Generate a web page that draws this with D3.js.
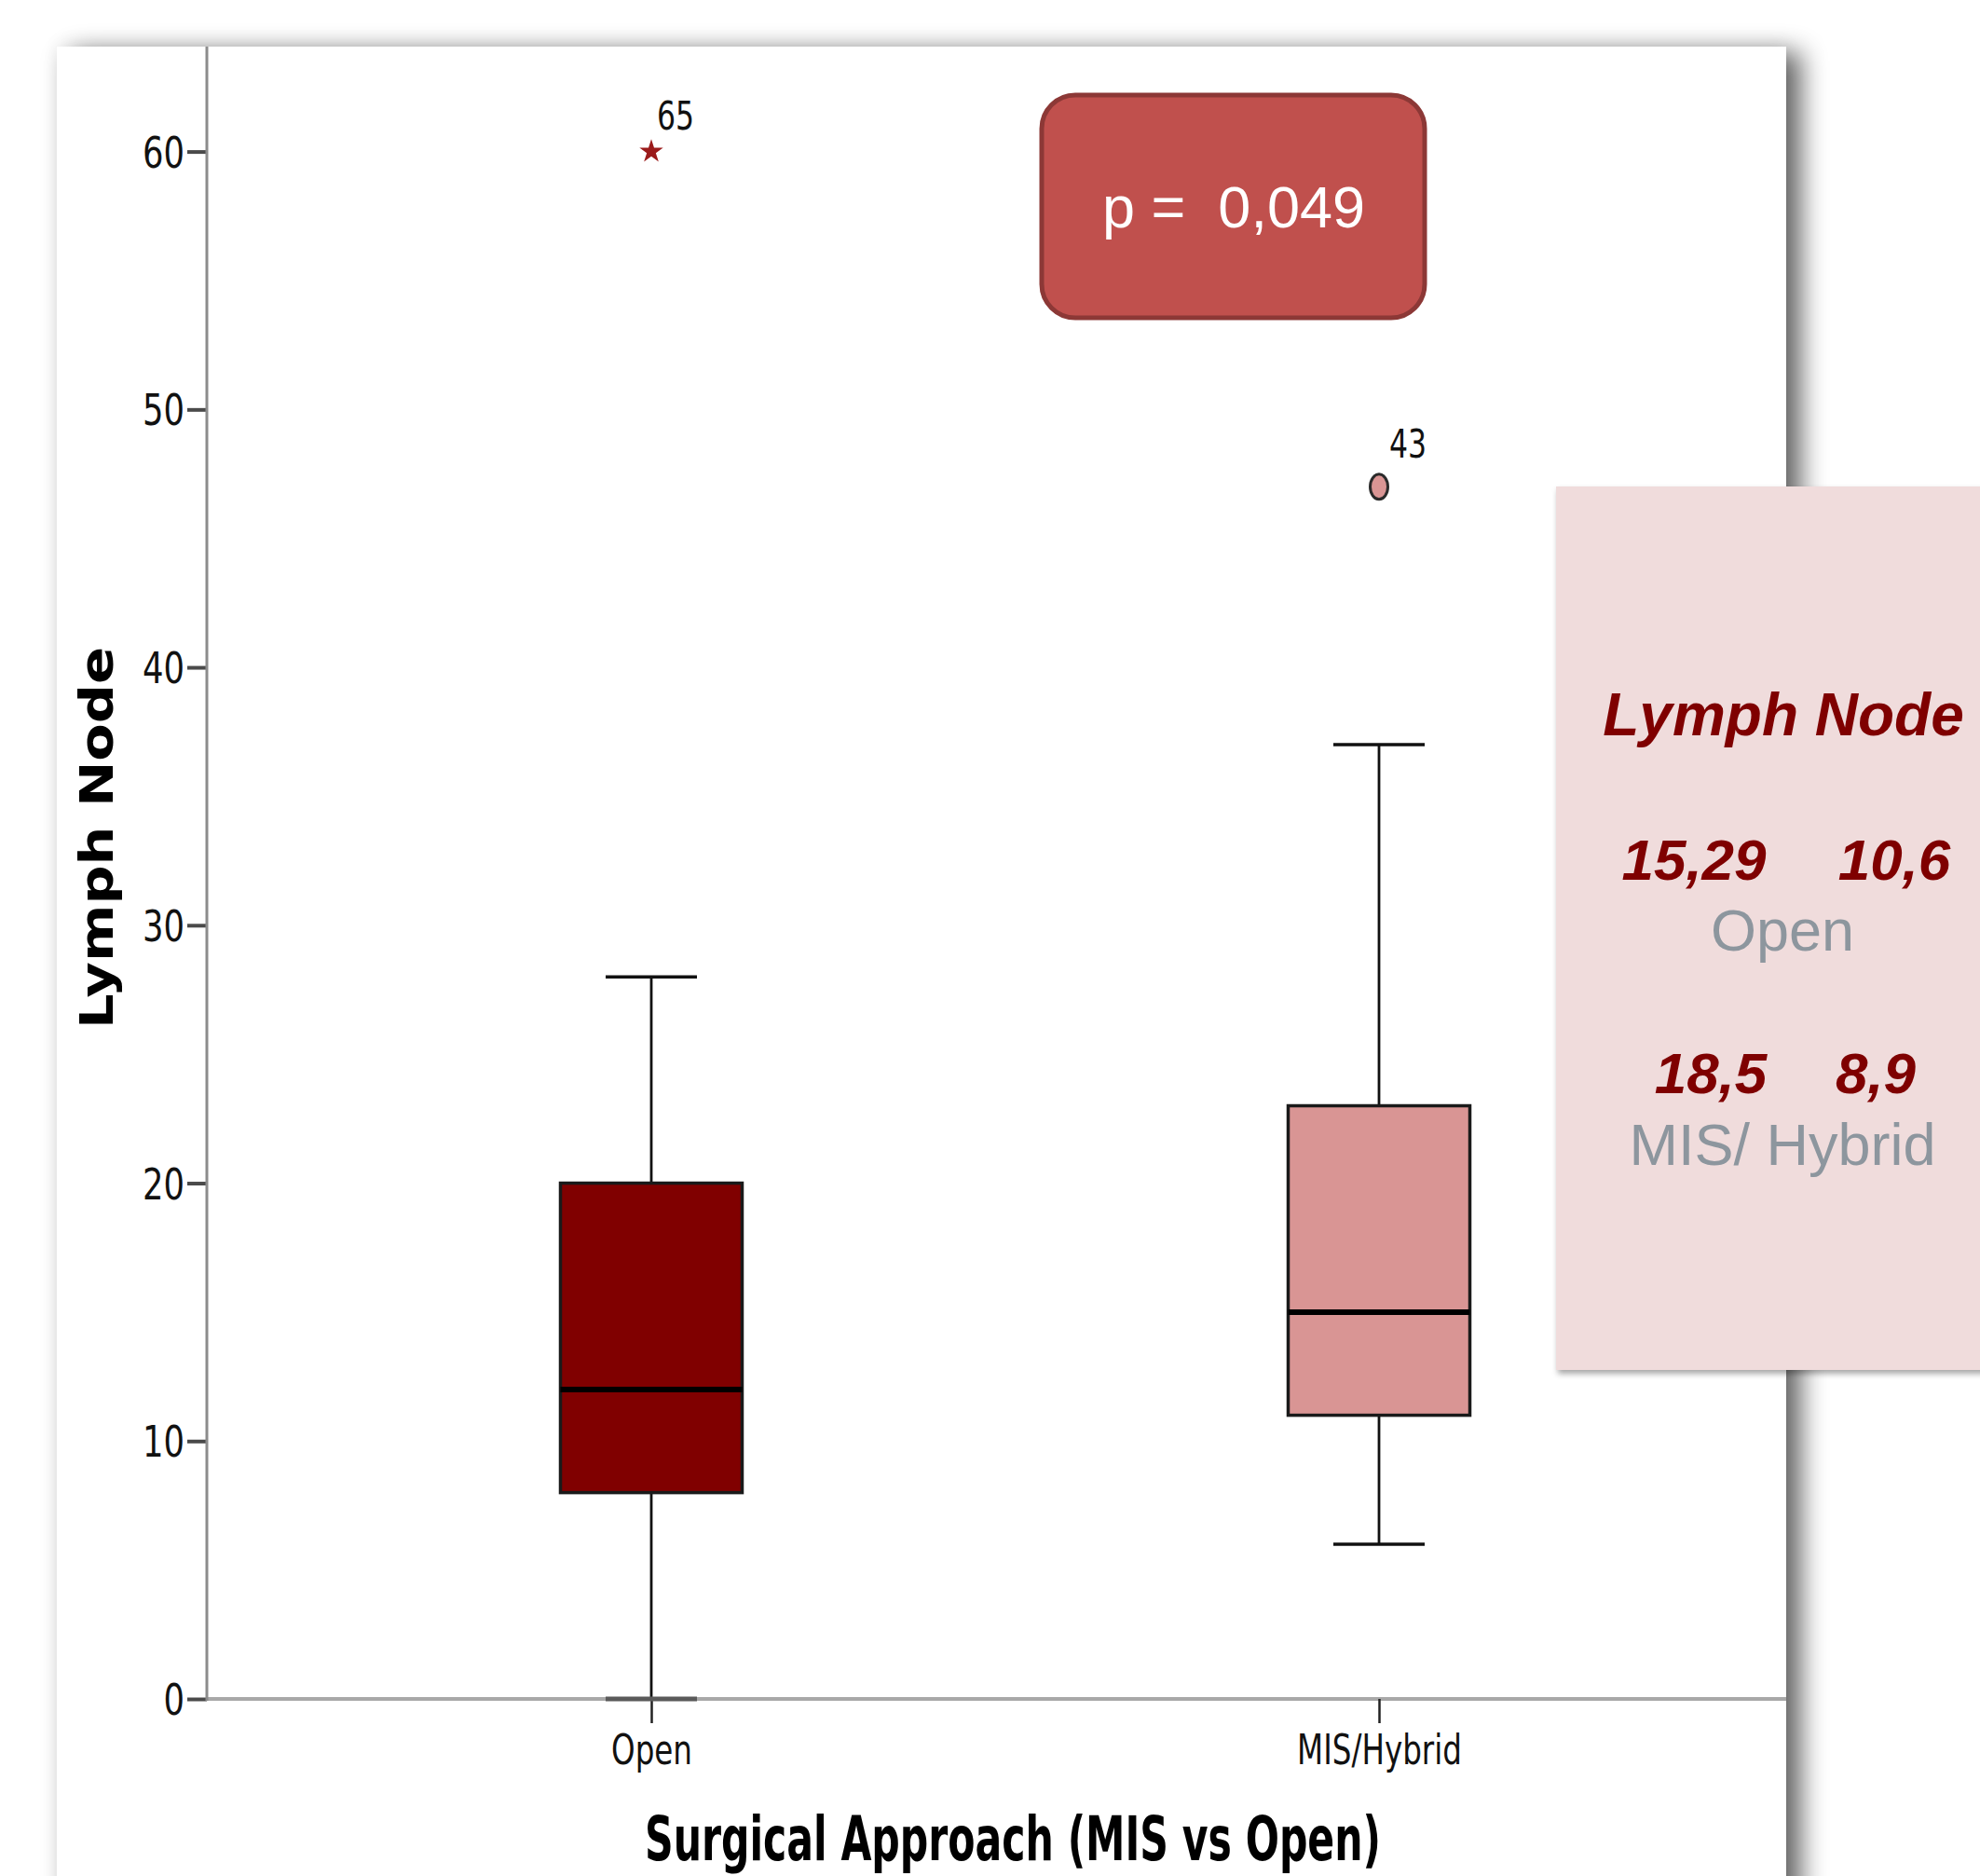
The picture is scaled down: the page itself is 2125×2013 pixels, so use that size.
<!DOCTYPE html>
<html>
<head>
<meta charset="utf-8">
<script src="https://cdn.jsdelivr.net/npm/d3@7"></script>
<style>
  html, body { margin: 0; padding: 0; background: #ffffff; }
  svg { display: block; }
</style>
</head>
<body>
<svg id="chart" width="2125" height="2013"></svg>
<script>
// Box-plot summary per surgical approach
const categories   = ["Open", "MIS/Hybrid"];
const whiskerLow   = [0, 6];
const quartile1    = [8, 11];
const medians      = [12, 15];
const quartile3    = [20, 23];
const whiskerHigh  = [28, 37];

// Points beyond the whiskers, with their case numbers
const outlierValues  = [60, 47];
const outlierCaseIds = ["65", "43"];
const outlierTypes   = ["extreme", "mild"];

// Axis ticks
const yTickValues = [0, 10, 20, 30, 40, 50, 60];

// Summary panel: mean and SD per group
const groupMeans = ["15,29", "18,5"];
const groupSDs   = ["10,6", "8,9"];
const groupNames = ["Open", "MIS/ Hybrid"];
const pValueText = "0,049";

const boxFills = ["#800000", "#d99594"];

const svg = d3.select("#chart");
const defs = svg.append("defs");

// Soft card shadow: faint halo plus stronger offset to the right
const cardShadow = defs.append("filter").attr("id", "cardShadow")
  .attr("x", "-10%").attr("y", "-10%").attr("width", "130%").attr("height", "130%");
cardShadow.append("feGaussianBlur").attr("in", "SourceAlpha").attr("stdDeviation", 14).attr("result", "blurA");
cardShadow.append("feOffset").attr("in", "blurA").attr("dx", 16).attr("dy", 6).attr("result", "offA");
cardShadow.append("feComponentTransfer").attr("in", "offA").attr("result", "shadowA")
  .append("feFuncA").attr("type", "linear").attr("slope", 0.6);
cardShadow.append("feGaussianBlur").attr("in", "SourceAlpha").attr("stdDeviation", 12).attr("result", "blurB");
cardShadow.append("feComponentTransfer").attr("in", "blurB").attr("result", "haloB")
  .append("feFuncA").attr("type", "linear").attr("slope", 0.07);
const cm = cardShadow.append("feMerge");
cm.append("feMergeNode").attr("in", "haloB");
cm.append("feMergeNode").attr("in", "shadowA");
cm.append("feMergeNode").attr("in", "SourceGraphic");

const panelShadow = defs.append("filter").attr("id", "panelShadow")
  .attr("x", "-5%").attr("y", "-5%").attr("width", "115%").attr("height", "115%");
panelShadow.append("feDropShadow").attr("dx", 2).attr("dy", 4)
  .attr("stdDeviation", 3).attr("flood-color", "#000").attr("flood-opacity", 0.35);

// White chart card
svg.append("rect")
  .attr("x", 61).attr("y", 50).attr("width", 1856).attr("height", 2100)
  .attr("fill", "#ffffff")
  .attr("filter", "url(#cardShadow)");

// Scales
const y = d3.scaleLinear().domain([0, 60]).range([1823, 162.6]);
const x = d3.scalePoint().domain(categories).range([699, 1480]);
const boxW = 195, capW = 98;

const plotLeft = 222, plotRight = 1917, plotTop = 50;

// Horizontally condense a text to a fraction of its natural width
function squeeze(sel, ratio) {
  sel.each(function () {
    const w = this.getComputedTextLength();
    d3.select(this).attr("textLength", w * ratio).attr("lengthAdjust", "spacingAndGlyphs");
  });
}

// X axis line (gray) and category ticks
svg.append("line")
  .attr("x1", plotLeft).attr("x2", plotRight)
  .attr("y1", y(0)).attr("y2", y(0))
  .attr("stroke", "#a8a8a8").attr("stroke-width", 4);

const xAxis = svg.append("g")
  .attr("transform", `translate(0,${y(0)})`)
  .call(d3.axisBottom(x).tickSize(26).tickPadding(0));
xAxis.select(".domain").remove();
xAxis.selectAll(".tick line").attr("stroke", "#222").attr("stroke-width", 2.5);
xAxis.selectAll(".tick text")
  .attr("y", 70).attr("dy", 0)
  .attr("fill", "#111")
  .style("font-family", "'DejaVu Sans', sans-serif")
  .style("font-size", "44px")
  .call(squeeze, 0.74);

// Y axis
const yAxis = svg.append("g")
  .attr("transform", `translate(${plotLeft},0)`)
  .call(d3.axisLeft(y).tickValues(yTickValues).tickSize(21).tickPadding(3).tickFormat(d3.format("d")));
yAxis.select(".domain").remove();
yAxis.selectAll(".tick line").attr("stroke", "#4a4a4a").attr("stroke-width", 4);
yAxis.selectAll(".tick text")
  .attr("fill", "#111")
  .attr("dy", "0.36em")
  .style("font-family", "'DejaVu Sans', sans-serif")
  .style("font-size", "46px")
  .call(squeeze, 0.77);
svg.append("line")
  .attr("x1", plotLeft).attr("x2", plotLeft)
  .attr("y1", plotTop).attr("y2", y(0) + 2)
  .attr("stroke", "#8c8c8c").attr("stroke-width", 3);

// Box plots
const groups = categories.map((c, i) => ({
  cat: c, lo: whiskerLow[i], q1: quartile1[i], med: medians[i],
  q3: quartile3[i], hi: whiskerHigh[i], fill: boxFills[i]
}));

const bp = svg.append("g").selectAll("g").data(groups).join("g");

// whisker stems
bp.append("line")
  .attr("x1", d => x(d.cat)).attr("x2", d => x(d.cat))
  .attr("y1", d => y(d.lo)).attr("y2", d => y(d.q1))
  .attr("stroke", "#111").attr("stroke-width", 2.8);
bp.append("line")
  .attr("x1", d => x(d.cat)).attr("x2", d => x(d.cat))
  .attr("y1", d => y(d.q3)).attr("y2", d => y(d.hi))
  .attr("stroke", "#111").attr("stroke-width", 2.8);
// whisker caps
bp.append("line")
  .attr("x1", d => x(d.cat) - capW / 2).attr("x2", d => x(d.cat) + capW / 2)
  .attr("y1", d => y(d.hi)).attr("y2", d => y(d.hi))
  .attr("stroke", "#111").attr("stroke-width", 3.5);
bp.append("line")
  .attr("x1", d => x(d.cat) - capW / 2).attr("x2", d => x(d.cat) + capW / 2)
  .attr("y1", d => y(d.lo)).attr("y2", d => y(d.lo))
  .attr("stroke", d => d.lo === 0 ? "#5a5a5a" : "#111")
  .attr("stroke-width", d => d.lo === 0 ? 5 : 3.5);
// boxes
bp.append("rect")
  .attr("x", d => x(d.cat) - boxW / 2)
  .attr("y", d => y(d.q3))
  .attr("width", boxW)
  .attr("height", d => y(d.q1) - y(d.q3))
  .attr("fill", d => d.fill)
  .attr("stroke", "#1a1a1a").attr("stroke-width", 3.5);
// medians
bp.append("line")
  .attr("x1", d => x(d.cat) - boxW / 2).attr("x2", d => x(d.cat) + boxW / 2)
  .attr("y1", d => y(d.med)).attr("y2", d => y(d.med))
  .attr("stroke", "#000").attr("stroke-width", 6);

// Outliers
const outliers = categories.map((c, i) => ({
  cat: c, v: outlierValues[i], id: outlierCaseIds[i], type: outlierTypes[i], fill: boxFills[i]
}));
const og = svg.append("g").selectAll("g").data(outliers).join("g")
  .attr("transform", d => `translate(${x(d.cat)},${y(d.v)})`);
og.filter(d => d.type === "extreme").append("path")
  .attr("d", d3.symbol().type(d3.symbolStar).size(200))
  .attr("fill", "#9b1b1b");
og.filter(d => d.type === "mild").append("ellipse")
  .attr("rx", 9.5).attr("ry", 13.5)
  .attr("fill", d => d.fill)
  .attr("stroke", "#2a2a2a").attr("stroke-width", 3);
og.append("text")
  .attr("x", d => d.type === "extreme" ? 6 : 11)
  .attr("y", d => d.type === "extreme" ? -24 : -31)
  .attr("fill", "#111")
  .style("font-family", "'DejaVu Sans', sans-serif")
  .style("font-size", "42px")
  .text(d => d.id)
  .call(squeeze, 0.75);

// Axis titles
svg.append("text")
  .attr("transform", "translate(121,899) rotate(-90)")
  .attr("text-anchor", "middle")
  .attr("fill", "#000")
  .style("font-family", "'DejaVu Sans', sans-serif")
  .style("font-weight", "bold")
  .style("font-size", "50px")
  .attr("textLength", 410).attr("lengthAdjust", "spacingAndGlyphs")
  .text("Lymph Node");

svg.append("text")
  .attr("x", 1087).attr("y", 1996)
  .attr("text-anchor", "middle")
  .attr("fill", "#000")
  .style("font-family", "'DejaVu Sans', sans-serif")
  .style("font-weight", "bold")
  .style("font-size", "66px")
  .attr("textLength", 790).attr("lengthAdjust", "spacingAndGlyphs")
  .text("Surgical Approach (MIS vs Open)");

// p-value badge
svg.append("rect")
  .attr("x", 1118).attr("y", 102).attr("width", 411).attr("height", 239)
  .attr("rx", 36).attr("ry", 36)
  .attr("fill", "#c0504d").attr("stroke", "#8c3836").attr("stroke-width", 5);
svg.append("text")
  .attr("x", 1324).attr("y", 244)
  .attr("text-anchor", "middle")
  .attr("fill", "#ffffff")
  .style("font-family", "'Liberation Sans', Arial, sans-serif")
  .style("font-size", "63px")
  .style("white-space", "pre")
  .text("p =  " + pValueText);

// Summary panel
svg.append("rect")
  .attr("x", 1670).attr("y", 522).attr("width", 520).attr("height", 948)
  .attr("fill", "#f0dcdc")
  .attr("filter", "url(#panelShadow)");

const panelFont = "'Liberation Sans', Arial, sans-serif";
svg.append("text")
  .attr("x", 1914).attr("y", 789)
  .attr("text-anchor", "middle")
  .attr("fill", "#7f0000")
  .style("font-family", panelFont)
  .style("font-weight", "bold").style("font-style", "italic")
  .style("font-size", "64px")
  .text("Lymph Node");

const rowBase = [944, 1173];
const meanX = [1818, 1836];
const sdX = [2033, 2013];
const nameBase = [1020, 1250];
const rows = svg.append("g").selectAll("g").data(groupNames).join("g");
rows.append("text")
  .attr("x", (d, i) => meanX[i]).attr("y", (d, i) => rowBase[i])
  .attr("text-anchor", "middle").attr("fill", "#7f0000")
  .style("font-family", panelFont)
  .style("font-weight", "bold").style("font-style", "italic")
  .style("font-size", "62px")
  .text((d, i) => groupMeans[i]);
rows.append("text")
  .attr("x", (d, i) => sdX[i]).attr("y", (d, i) => rowBase[i])
  .attr("text-anchor", "middle").attr("fill", "#7f0000")
  .style("font-family", panelFont)
  .style("font-weight", "bold").style("font-style", "italic")
  .style("font-size", "62px")
  .text((d, i) => groupSDs[i]);
rows.append("text")
  .attr("x", 1913).attr("y", (d, i) => nameBase[i])
  .attr("text-anchor", "middle").attr("fill", "#8d969e")
  .style("font-family", panelFont)
  .style("font-size", "63px")
  .text(d => d);
</script>
</body>
</html>
